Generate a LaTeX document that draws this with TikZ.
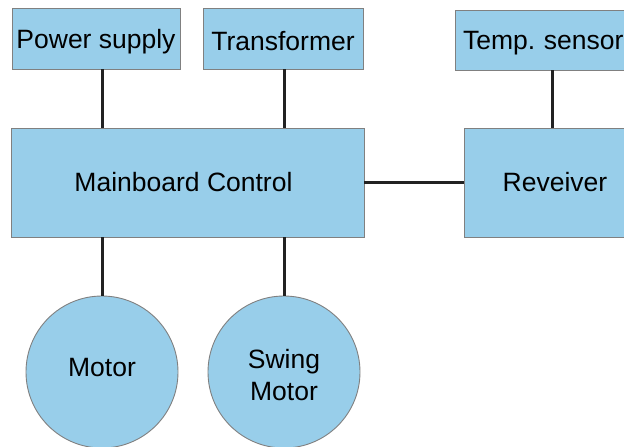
\documentclass[tikz,border=0pt]{standalone}
\usepackage{fontspec}
\setmainfont{Liberation Sans}
\frenchspacing
\definecolor{boxfill}{RGB}{152,206,234}
\definecolor{boxline}{RGB}{128,128,128}
\definecolor{wire}{RGB}{34,34,34}
\newcommand{\shiftit}[2]{\raisebox{#1}[\height][\depth]{#2}}
\begin{document}
\begin{tikzpicture}[x=1pt,y=-1pt,
  box/.style={draw=boxline,fill=boxfill,line width=0.9pt,rectangle,inner sep=0pt,
    font=\fontsize{26.5}{32}\selectfont,text=black},
  disc/.style={draw=boxline,fill=boxfill,line width=0.9pt,circle,inner sep=0pt,
    minimum size=152pt,font=\fontsize{26.5}{32}\selectfont,align=center,text=black},
  wireline/.style={draw=wire,line width=3pt}]
\useasboundingbox (0,0) rectangle (624,447);
\clip (0,0) rectangle (624,447);
\fill[white] (0,0) rectangle (624,447);
\node[box,minimum width=168pt,minimum height=61pt] (ps) at (96,38.5) {\shiftit{-3pt}{Power supply}};
\node[box,minimum width=160pt,minimum height=61pt] (tr) at (283,38.5) {\shiftit{-3pt}{Transformer}};
\node[box,minimum height=60pt,text width=178pt,inner xsep=8pt,align=left] (ts) at (552,40) {\shiftit{-3pt}{Temp. sensor}};
\node[box,minimum width=353pt,minimum height=109pt] (mb) at (187.5,182.5) {\hspace*{-8pt}Mainboard Control};
\node[box,minimum width=182pt,minimum height=109pt] (rc) at (555,182.5) {Reveiver};
\node[disc] (m1) at (102,372) {\shiftit{4pt}{Motor}};
\node[disc] (m2) at (284,372) {\shiftit{-3pt}{Swing}\\\shiftit{-3pt}{Motor}};
\draw[wireline] (ps.south -| m1.north) -- (mb.north -| m1.north);
\draw[wireline] (tr.south -| m2.north) -- (mb.north -| m2.north);
\draw[wireline] (ts.south) -- (ts.south |- rc.north);
\draw[wireline] (mb.east) -- (rc.west);
\draw[wireline] (mb.south -| m1.north) -- (m1.north);
\draw[wireline] (mb.south -| m2.north) -- (m2.north);
\end{tikzpicture}
\end{document}
